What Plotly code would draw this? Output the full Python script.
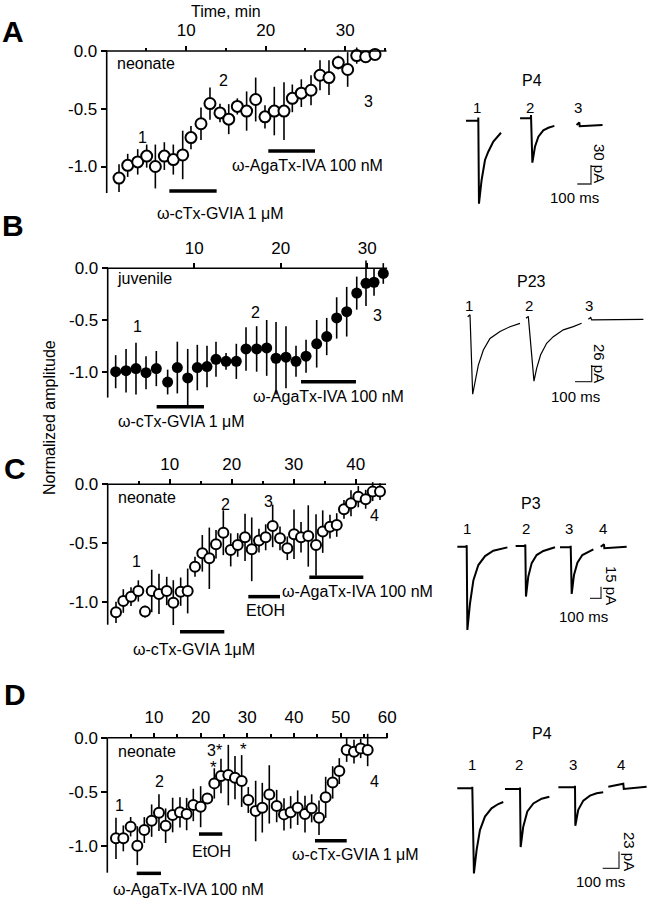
import plotly.graph_objects as go

W, H = 651, 900
FONT = "Arial, 'Liberation Sans', Helvetica, sans-serif"

# ---------------- time-course data (min, normalized amplitude, SEM) ----------------
a_time = [1.55, 2.64, 3.9, 5.03, 6.12, 7.25, 8.38, 9.56, 10.6, 11.86, 12.99, 14.25, 15.35, 16.43, 17.6,
          18.74, 19.91, 21.08, 22.3, 23.35, 24.48, 25.7, 26.83, 27.96, 29.13, 30.31, 31.45, 32.58, 33.75]
a_amp = [-1.10, -0.99, -0.96, -0.91, -1.0, -0.91, -0.94, -0.90, -0.75, -0.63, -0.455, -0.536, -0.59, -0.48,
         -0.52, -0.42, -0.57, -0.52, -0.52, -0.41, -0.365, -0.34, -0.21, -0.23, -0.10, -0.16, -0.04, -0.05, -0.03]
a_err = [0.12, 0.10, 0.11, 0.10, 0.19, 0.12, 0.13, 0.21, 0.10, 0.14, 0.14, 0.08, 0.13, 0.07, 0.17,
         0.19, 0.10, 0.21, 0.25, 0.12, 0.12, 0.13, 0.13, 0.15, 0.06, 0.15, 0.07, 0.04, 0.04]

b_time = [0.92, 2.12, 3.27, 4.43, 5.62, 6.93, 8.05, 9.25, 10.36, 11.48, 12.52, 13.68, 14.87, 15.99,
          17.22, 18.38, 19.46, 20.61, 21.77, 22.93, 24.16, 25.32, 26.47, 27.63, 28.79, 29.86, 30.79, 31.86]
b_amp = [-1.0, -0.99, -0.97, -1.01, -0.97, -1.10, -0.96, -1.06, -0.96, -0.95, -0.88, -0.90, -0.90, -0.78,
         -0.78, -0.77, -0.87, -0.86, -0.90, -0.85, -0.73, -0.66, -0.48, -0.42, -0.24, -0.145, -0.135, -0.05]
b_err = [0.16, 0.21, 0.25, 0.16, 0.17, 0.12, 0.25, 0.28, 0.22, 0.20, 0.17, 0.08, 0.17, 0.21,
         0.22, 0.27, 0.35, 0.30, 0.15, 0.16, 0.23, 0.18, 0.20, 0.24, 0.16, 0.22, 0.13, 0.10]

c_time = [1.34, 2.52, 3.76, 4.94, 6.02, 7.1, 8.27, 9.52, 10.58, 11.77, 12.9, 14.08, 15.26, 16.39, 17.47,
          18.65, 19.84, 20.97, 22.15, 23.23, 24.4, 25.48, 26.61, 27.79, 28.97, 30.05, 31.18, 32.35, 33.6,
          34.68, 35.85, 36.94, 38.11, 39.24, 40.42, 41.61, 42.74, 43.92]
c_amp = [-1.085, -0.989, -0.952, -0.904, -1.079, -0.904, -0.929, -0.904, -1.003, -0.910, -0.904, -0.698,
         -0.585, -0.627, -0.508, -0.410, -0.556, -0.514, -0.449, -0.551, -0.477, -0.449, -0.353, -0.458,
         -0.542, -0.424, -0.449, -0.438, -0.514, -0.401, -0.359, -0.345, -0.212, -0.161, -0.105, -0.127,
         -0.062, -0.062]
c_err = [0.09, 0.10, 0.08, 0.09, 0.05, 0.18, 0.17, 0.12, 0.19, 0.12, 0.19, 0.085, 0.155, 0.26, 0.12,
         0.19, 0.14, 0.10, 0.20, 0.27, 0.10, 0.11, 0.18, 0.10, 0.10, 0.21, 0.13, 0.26, 0.26, 0.18, 0.10,
         0.10, 0.08, 0.11, 0.09, 0.08, 0.08, 0.07]

d_time = [1.86, 3.43, 5.0, 6.43, 7.93, 9.5, 11.07, 12.5, 14.0, 15.57, 17.0, 18.43, 20.0, 21.43, 22.93,
          24.36, 25.93, 27.36, 28.79, 30.21, 31.79, 33.21, 34.71, 36.29, 37.86, 39.29, 40.79, 42.36,
          43.79, 45.36, 46.79, 48.29, 49.71, 51.29, 52.86, 54.29, 55.79]
d_amp = [-0.932, -0.932, -0.824, -1.00, -0.855, -0.768, -0.694, -0.815, -0.716, -0.691, -0.707, -0.623,
         -0.639, -0.562, -0.423, -0.355, -0.346, -0.370, -0.401, -0.577, -0.679, -0.648, -0.525, -0.633,
         -0.710, -0.691, -0.648, -0.707, -0.654, -0.741, -0.552, -0.414, -0.309, -0.114, -0.130, -0.099,
         -0.114]
d_err = [0.19, 0.12, 0.09, 0.18, 0.12, 0.15, 0.17, 0.16, 0.16, 0.14, 0.15, 0.15, 0.19, 0.05, 0.14,
         0.16, 0.28, 0.20, 0.24, 0.12, 0.28, 0.23, 0.27, 0.15, 0.15, 0.15, 0.16, 0.17, 0.13, 0.16,
         0.19, 0.15, 0.12, 0.11, 0.11, 0.09, 0.15]

# drug application bars: (start min, end min, level)
a_bars = [(7.88, 13.83, -1.212), (20.33, 26.2, -0.866)]
b_bars = [(5.66, 11.13, -1.338), (22.35, 28.7, -1.097)]
c_bars = [(11.66, 18.81, -1.249), (22.68, 27.79, -0.952), (32.52, 41.23, -0.788)]
d_bars = [(6.3, 11.5, -1.256), (19.65, 24.64, -0.892), (44.5, 51.3, -0.954)]

y_tickvals = [0, -0.5, -1.0]
y_ticktext = ["0.0", "-0.5", "-1.0"]

# ---------------- example current recordings (ms, pA) ----------------
a_rec_t = [[-90, -1, 0, 5, 24, 49, 73, 110, 166],
           [-80, -1, 0, 10, 29, 54, 90, 127, 171],
           [-20, 0, 3, 170]]
a_rec_i = [[0, 0, 5, -131, -94, -62, -49, -33, -19],
           [0, 0, 5, -70, -45, -29, -19, -15, -12],
           [0, 4, -2, 0]]

b_rec_t = [[-14, 0, 16, 30, 50, 80, 120, 180, 240, 300],
           [-14, 0, 34, 50, 74, 110, 150, 210, 270, 320],
           [-14, 0, 6, 316]]
b_rec_i = [[0, 3, -121, -102, -75.5, -52, -34, -23, -15.6, -10.4],
           [0, 3, -98, -78, -57, -39, -28.6, -18, -13, -7.8],
           [0, 3, -1, 0]]

c_rec_t = [[-85, -1, 0, 6, 30, 61, 106, 167, 242, 370],
           [-88, -1, 0, 6, 27, 58, 103, 164, 270],
           [-97, -1, 0, 9, 30, 61, 106, 206],
           [-30, 0, 3, 206]]
c_rec_i = [[0, 0, 2, -107, -73, -43, -23.6, -12, -5.2, -0.9],
           [0, 0, 2, -65, -39.5, -22, -11.6, -6.4, -1.7],
           [0, 0, 2, -60, -35.6, -19.7, -9.9, -2.6],
           [0, 3, -2, 0]]

d_rec_t = [[-92, -1, 0, 10, 26.5, 47, 77.6, 118, 159, 190],
           [-92, -1, 0, 4, 20, 45, 82, 133, 180],
           [-102, -1, 0, 2, 20, 51, 92, 133, 173],
           [-92, 0, 3, 143]]
d_rec_i = [[0, 0, 2, -117.5, -85, -57.6, -39, -27.6, -21.7, -18.9],
           [0, 0, 2, -80, -52, -31, -20, -13.4, -10.6],
           [0, 0, 2, -53, -31, -18.4, -11.5, -8.3, -6.9],
           [0, 4, -3, 0]]

scale_ms = 100
scale_pA = [30, 26, 15, 23]

# ---------------- layout configuration (pixel geometry) ----------------
charts = [
    dict(n=1, t=a_time, v=a_amp, e=a_err, bars=a_bars, filled=False, msize=11,
         box=(98, 36, 398, 202), ox=106.7, kx=7.95, oy=51.0, ky=115.5, t_end=35.2, y_bot=-1.23,
         major=[10, 20, 30], minor=[5, 15, 25, 35]),
    dict(n=3, t=b_time, v=b_amp, e=b_err, bars=b_bars, filled=True, msize=11,
         box=(98, 255, 398, 415), ox=107.7, kx=8.65, oy=268.3, ky=103.4, t_end=32.3, y_bot=-1.25,
         major=[10, 20, 30], minor=[]),
    dict(n=5, t=c_time, v=c_amp, e=c_err, bars=c_bars, filled=False, msize=10,
         box=(98, 468, 398, 640), ox=107.7, kx=6.2, oy=484.3, ky=118.0, t_end=44.9, y_bot=-1.19,
         major=[10, 20, 30, 40], minor=[5, 15, 25, 35]),
    dict(n=7, t=d_time, v=d_amp, e=d_err, bars=d_bars, filled=False, msize=10,
         box=(98, 722, 398, 885), ox=107.3, kx=4.667, oy=737.7, ky=108.0, t_end=60, y_bot=-1.25,
         major=[10, 20, 30, 40, 50, 60], minor=[5, 15, 25, 35, 45, 55]),
]

recs = [
    dict(n=2, T=a_rec_t, I=a_rec_i, sb=scale_pA[0], box=(450, 60, 648, 215), kx=0.1367, ky=0.6333,
         pos=[(478.3, 120.7), (531, 118.3), (579.3, 125)], corner=(591, 184), lw=2.0),
    dict(n=4, T=b_rec_t, I=b_rec_i, sb=scale_pA[1], box=(450, 290, 648, 405), kx=0.1667, ky=0.641,
         pos=[(470, 316.7), (528.3, 318.3), (590.7, 319.3)], corner=(591.7, 381.7), lw=1.2),
    dict(n=6, T=c_rec_t, I=c_rec_i, sb=scale_pA[2], box=(450, 515, 648, 640), kx=0.11, ky=0.778,
         pos=[(466.7, 546.7), (525.3, 546), (570.7, 547.3), (604, 546.7)], corner=(601, 598.3), lw=2.0),
    dict(n=8, T=d_rec_t, I=d_rec_i, sb=scale_pA[3], box=(450, 750, 650, 885), kx=0.163, ky=0.725,
         pos=[(472.3, 788.3), (520, 789), (575, 787.3), (623.3, 786.7)], corner=(619, 868.3), lw=2.0),
]

fig = go.Figure()
layout = dict(width=W, height=H, margin=dict(l=0, r=0, t=0, b=0), paper_bgcolor="white",
              plot_bgcolor="rgba(0,0,0,0)", showlegend=False, font=dict(family=FONT, color="black"))
shapes = []
annotations = []


def dom(box):
    L, T, R, B = box
    return [L / W, R / W], [1 - B / H, 1 - T / H]


for c in charts:
    n = c["n"]
    L, T, R, B = c["box"]
    dx, dy = dom(c["box"])
    xr = [(L - c["ox"]) / c["kx"], (R - c["ox"]) / c["kx"]]
    yr = [(c["oy"] - B) / c["ky"], (c["oy"] - T) / c["ky"]]
    xa = dict(domain=dx, range=xr, anchor="free", position=1 - c["oy"] / H, side="top",
              showline=False, showgrid=False, zeroline=False, ticks="outside", ticklen=5,
              tickwidth=1.5, tickcolor="black", tickmode="array", tickvals=c["major"],
              ticktext=[str(v) for v in c["major"]], ticklabelstandoff=3,
              tickfont=dict(size=17, color="black", family=FONT))
    if c["minor"]:
        xa["minor"] = dict(tickmode="array", tickvals=c["minor"], ticks="outside", ticklen=3.5,
                           tickwidth=1.5, tickcolor="black", showgrid=False)
    ya = dict(domain=dy, range=yr, anchor="free", position=c["ox"] / W, side="left",
              showline=False, showgrid=False, zeroline=False, ticks="outside", ticklen=6,
              tickwidth=1.5, tickcolor="black", tickmode="array", tickvals=y_tickvals,
              ticktext=y_ticktext, tickfont=dict(size=17, color="black", family=FONT))
    layout["xaxis%d" % n] = xa
    layout["yaxis%d" % n] = ya
    if c["filled"]:
        marker = dict(symbol="circle", size=c["msize"], color="black", line=dict(width=0))
    else:
        marker = dict(symbol="circle", size=c["msize"], color="white", line=dict(color="black", width=2))
    fig.add_trace(go.Scatter(x=c["t"], y=c["v"], mode="markers", marker=marker, cliponaxis=False,
                             error_y=dict(type="data", array=c["e"], visible=True, color="black",
                                          thickness=1.6, width=0),
                             xaxis="x%d" % n, yaxis="y%d" % n, hoverinfo="skip"))
    xref, yref = "x%d" % n, "y%d" % n
    shapes.append(dict(type="line", xref=xref, yref=yref, x0=0, x1=c["t_end"], y0=0, y1=0,
                       line=dict(color="black", width=1.6)))
    shapes.append(dict(type="line", xref=xref, yref=yref, x0=0, x1=0, y0=0, y1=c["y_bot"],
                       line=dict(color="black", width=1.6)))
    for (t0, t1, lev) in c["bars"]:
        shapes.append(dict(type="line", xref=xref, yref=yref, x0=t0, x1=t1, y0=lev, y1=lev,
                           line=dict(color="black", width=3.5)))

for r in recs:
    n = r["n"]
    L, T, R, B = r["box"]
    dx, dy = dom(r["box"])
    ox, oy = r["pos"][0]
    xr = [(L - ox) / r["kx"], (R - ox) / r["kx"]]
    yr = [(oy - B) / r["ky"], (oy - T) / r["ky"]]
    layout["xaxis%d" % n] = dict(domain=dx, range=xr, visible=False, anchor="y%d" % n)
    layout["yaxis%d" % n] = dict(domain=dy, range=yr, visible=False, anchor="x%d" % n)
    for (tt, ii, (px, py)) in zip(r["T"], r["I"], r["pos"]):
        xoff = (px - ox) / r["kx"]
        yoff = (oy - py) / r["ky"]
        fig.add_trace(go.Scatter(x=[t + xoff for t in tt], y=[i + yoff for i in ii], mode="lines",
                                 line=dict(color="black", width=r["lw"]),
                                 xaxis="x%d" % n, yaxis="y%d" % n, hoverinfo="skip"))
    cx = (r["corner"][0] - ox) / r["kx"]
    cy = (oy - r["corner"][1]) / r["ky"]
    fig.add_trace(go.Scatter(x=[cx - scale_ms, cx, cx], y=[cy, cy, cy + r["sb"]], mode="lines",
                             line=dict(color="#333333", width=1.3),
                             xaxis="x%d" % n, yaxis="y%d" % n, hoverinfo="skip"))


def ann(text, px, py, size=16, bold=False, xanchor="center", angle=0):
    if bold:
        text = "<b>%s</b>" % text
    annotations.append(dict(text=text, x=px / W, y=1 - py / H, xref="paper", yref="paper",
                            showarrow=False, xanchor=xanchor, yanchor="middle", textangle=angle,
                            borderpad=0, font=dict(size=size, color="black", family=FONT)))


# panel letters
ann("A", 13, 31, size=30, bold=True)
ann("B", 13, 226, size=30, bold=True)
ann("C", 15, 468, size=30, bold=True)
ann("D", 15, 694, size=30, bold=True)
ann("Time, min", 226, 12)
ann("Normalized amplitude", 49, 418, size=16, angle=-90)

# panel A
ann("neonate", 116, 63, xanchor="left")
ann("1", 142, 137); ann("2", 223, 81); ann("3", 368, 102)
ann("ω-cTx-GVIA 1 μM", 220, 213)
ann("ω-AgaTx-IVA 100 nM", 307, 166)
ann("P4", 531.7, 80); ann("1", 477, 107, 15); ann("2", 530, 107, 15); ann("3", 578, 107, 15)
ann("30 pA", 600, 163, 15, angle=90); ann("100 ms", 574, 198, 15)

# panel B
ann("juvenile", 116, 278, xanchor="left")
ann("1", 137, 327); ann("2", 255, 312); ann("3", 377, 315)
ann("ω-cTx-GVIA 1 μM", 181.7, 421.7)
ann("ω-AgaTx-IVA 100 nM", 328.3, 396.7)
ann("P23", 531, 281.7); ann("1", 469, 305, 15); ann("2", 529.3, 305, 15); ann("3", 589.3, 305, 15)
ann("26 pA", 600, 363, 15, angle=90); ann("100 ms", 575, 396.7, 15)

# panel C
ann("neonate", 117, 497.7, xanchor="left")
ann("1", 136.7, 561.7); ann("2", 225, 504.3); ann("3", 268.3, 501); ann("4", 375, 515)
ann("ω-cTx-GVIA 1μM", 194, 649)
ann("EtOH", 265.7, 610.7)
ann("ω-AgaTx-IVA 100 nM", 357.3, 591.7)
ann("P3", 531, 503.3); ann("1", 466.7, 528.3, 15); ann("2", 526, 528.3, 15)
ann("3", 569.3, 528.3, 15); ann("4", 603.3, 528.3, 15)
ann("15 pA", 612, 585, 15, angle=90); ann("100 ms", 583.3, 616, 15)

# panel D
ann("neonate", 117, 751, xanchor="left")
ann("1", 119.3, 805); ann("2", 159, 781); ann("4", 375, 781.7)
ann("3*", 215, 750)
ann("*", 213.3, 767, 17); ann("*", 243.3, 749, 17)
ann("ω-AgaTx-IVA 100 nM", 188.3, 889)
ann("EtOH", 211.7, 851.7)
ann("ω-cTx-GVIA 1 μM", 355, 854.3)
ann("P4", 542.3, 733.3); ann("1", 472.3, 764.3, 15); ann("2", 519.3, 764.3, 15)
ann("3", 573.3, 764.3, 15); ann("4", 621, 764.3, 15)
ann("23 pA", 630, 851, 15, angle=90); ann("100 ms", 600, 881.7, 15)

layout["shapes"] = shapes
layout["annotations"] = annotations
fig.update_layout(**layout)
fig.write_html("out.html", config={"displayModeBar": False},
               post_script="document.body.style.margin='0px';document.body.style.overflow='hidden';")
